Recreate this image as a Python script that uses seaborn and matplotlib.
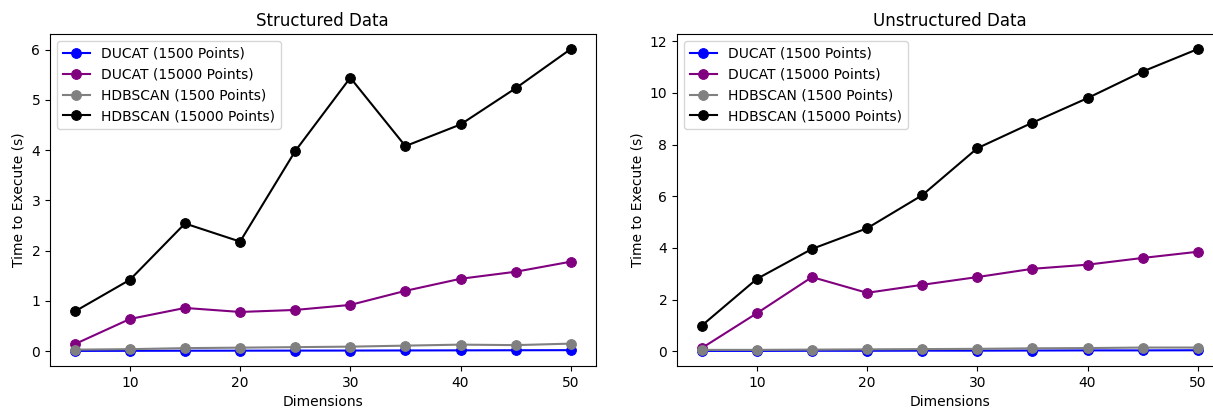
import pandas as pd
import seaborn as sns
import matplotlib.pyplot as plt

dims = [5, 10, 15, 20, 25, 30, 35, 40, 45, 50]

# structured data
s_ducat_1500 = [0.005, 0.007, 0.009, 0.010, 0.011, 0.012, 0.014, 0.016, 0.018, 0.02]
s_ducat_15000 = [0.14, 0.64, 0.86, 0.78, 0.82, 0.92, 1.20, 1.44, 1.58, 1.78]
s_hdb_1500 = [0.03, 0.04, 0.06, 0.07, 0.08, 0.09, 0.11, 0.13, 0.12, 0.15]
s_hdb_15000 = [0.79, 1.42, 2.54, 2.18, 3.98, 5.44, 4.08, 4.51, 5.23, 6.01]

# unstructured data
u_ducat_1500 = [0.01, 0.01, 0.015, 0.015, 0.02, 0.02, 0.025, 0.03, 0.03, 0.035]
u_ducat_15000 = [0.12, 1.47, 2.87, 2.26, 2.57, 2.87, 3.19, 3.35, 3.61, 3.85]
u_hdb_1500 = [0.05, 0.05, 0.06, 0.07, 0.08, 0.09, 0.11, 0.12, 0.14, 0.14]
u_hdb_15000 = [0.99, 2.80, 3.96, 4.76, 6.04, 7.86, 8.85, 9.80, 10.83, 11.70]

labels = ['DUCAT (1500 Points)', 'DUCAT (15000 Points)',
          'HDBSCAN (1500 Points)', 'HDBSCAN (15000 Points)']
colors = ['blue', 'purple', 'gray', 'black']


def plot_panel(ax, series, title, yticks):
    for vals, lab, col in zip(series, labels, colors):
        df = pd.DataFrame({'dim': dims, 'time': vals})
        sns.lineplot(data=df, x='dim', y='time', ax=ax, color=col, marker='o',
                     markersize=7, markeredgecolor=col, label=lab)
    ax.set_title(title, fontsize=12)
    ax.set_xlabel('Dimensions')
    ax.set_ylabel('Time to Execute (s)')
    ax.set_xticks([10, 20, 30, 40, 50])
    ax.set_yticks(yticks)
    ax.legend(loc='upper left', fontsize=10)


fig, axes = plt.subplots(1, 2, figsize=(12.13, 4.11), dpi=100)
plot_panel(axes[0], [s_ducat_1500, s_ducat_15000, s_hdb_1500, s_hdb_15000],
           'Structured Data', [0, 1, 2, 3, 4, 5, 6])
plot_panel(axes[1], [u_ducat_1500, u_ducat_15000, u_hdb_1500, u_hdb_15000],
           'Unstructured Data', [0, 2, 4, 6, 8, 10, 12])

# the original figure was cropped slightly on the right
W, H = 1213, 411
bottom = (H - 366) / H
height = (366 - 34) / H
axes[0].set_position([50 / W, bottom, 545.5 / W, height])
axes[1].set_position([677 / W, bottom, 545.5 / W, height])
fig.savefig('out.png', dpi=100)
